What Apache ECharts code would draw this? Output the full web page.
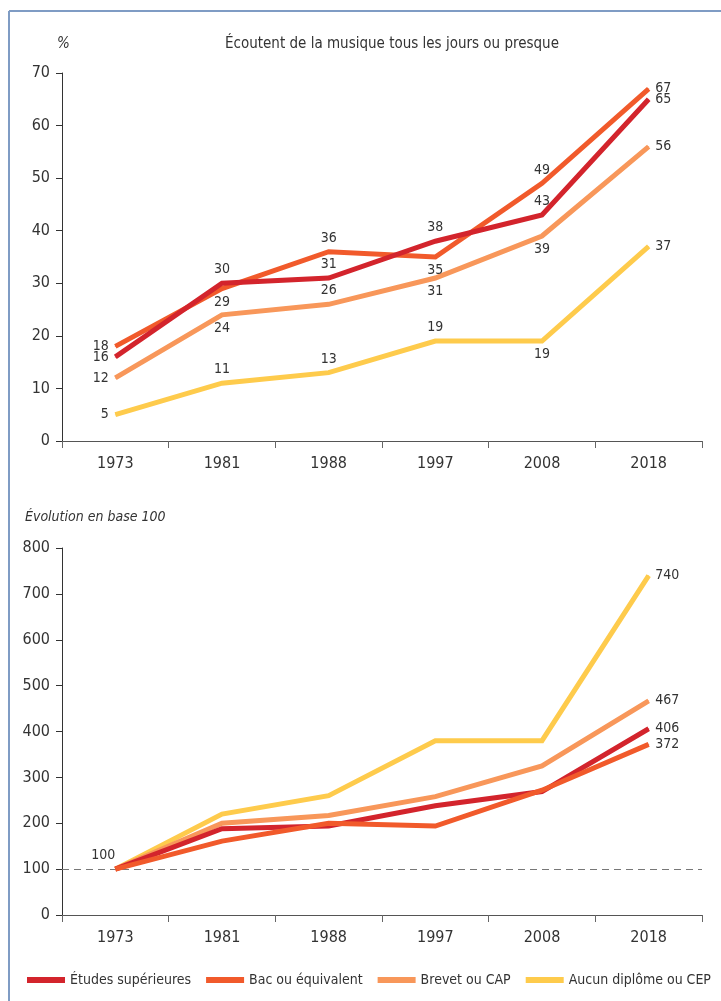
<!DOCTYPE html>
<html>
<head>
<meta charset="utf-8">
<script src="https://cdn.jsdelivr.net/npm/echarts@6/dist/echarts.min.js"></script>
<style>
html, body { margin: 0; padding: 0; background: #fff; }
#chart { width: 721px; height: 1001px; }
</style>
</head>
<body>
<div id="chart"></div>
<script>
// data
var years = ["1973", "1981", "1988", "1997", "2008", "2018"];
var names = ["Études supérieures", "Bac ou équivalent", "Brevet ou CAP", "Aucun diplôme ou CEP"];

// % qui écoutent de la musique tous les jours ou presque
var pctSup = [16, 30, 31, 38, 43, 65];
var pctBac = [18, 29, 36, 35, 49, 67];
var pctBrevet = [12, 24, 26, 31, 39, 56];
var pctAucun = [5, 11, 13, 19, 19, 37];

// évolution en base 100 (1973 = 100)
var idxSup = [100, 188, 194, 238, 269, 406];
var idxBac = [100, 161, 200, 194, 272, 372];
var idxBrevet = [100, 200, 217, 258, 325, 467];
var idxAucun = [100, 220, 260, 380, 380, 740];

var pctTicks = [0, 70, 10];
var idxTicks = [0, 800, 100];

var colors = ["#d3242c", "#f15a2b", "#f8975a", "#fecb4c"];
var FONT = '"Liberation Sans Narrow", "DejaVu Sans Condensed", sans-serif';

// where each value label sits, by point
var posTop = {
    sup: ["left", "top", "top", "top", "top", "right"],
    bac: ["left", "bottom", "top", "bottom", "top", "right"],
    brevet: ["left", "bottom", "top", "bottom", "bottom", "right"],
    aucun: ["left", "top", "top", "top", "bottom", "right"]
};

function topData(values, pos) {
    return values.map(function (v, i) {
        return { value: v, label: { show: true, position: pos[i] } };
    });
}

// bottom chart: only the last value, and "100" once on the first point
function idxData(values, first) {
    return values.map(function (v, i) {
        if (i === values.length - 1) return { value: v, label: { show: true, position: "right" } };
        if (i === 0 && first) return { value: v, label: { show: true, position: "top", offset: [-12, 0] } };
        return { value: v };
    });
}

function lineSeries(name, data, color, axis, z) {
    return {
        name: name,
        type: "line",
        xAxisIndex: axis,
        yAxisIndex: axis,
        data: data,
        // tiny symbol kept so labels can show, hidden under the line
        symbol: "circle",
        symbolSize: 1,
        z: z,
        lineStyle: { color: color, width: 5, join: "miter" },
        itemStyle: { color: color },
        label: { show: false, color: "#333", fontSize: 14, fontFamily: FONT, distance: 6 },
        emphasis: { disabled: true }
    };
}

function xAxis(idx) {
    return {
        type: "category",
        gridIndex: idx,
        data: years,
        boundaryGap: true,
        axisLine: { lineStyle: { color: "#555", width: 1 } },
        axisTick: { show: true, interval: 0, length: 7, lineStyle: { color: "#666" } },
        axisLabel: { color: "#333", fontSize: 16, fontFamily: FONT, margin: 15 }
    };
}

function yAxis(idx, ticks) {
    return {
        type: "value",
        gridIndex: idx,
        min: ticks[0],
        max: ticks[1],
        interval: ticks[2],
        axisLine: { show: true, lineStyle: { color: "#333", width: 1 } },
        axisTick: { show: true, length: 6, lineStyle: { color: "#333" } },
        splitLine: { show: false },
        axisLabel: { color: "#333", fontSize: 16, fontFamily: FONT, margin: 12 }
    };
}

var chart = echarts.init(document.getElementById("chart"));

var option = {
    animation: false,
    backgroundColor: "#fff",
    textStyle: { fontFamily: FONT },
    title: [
        { text: "%", left: 52, top: 32, textStyle: { fontSize: 15, fontStyle: "italic", fontWeight: "normal", color: "#333", fontFamily: FONT } },
        { text: "Écoutent de la musique tous les jours ou presque", left: 220, top: 32, textStyle: { fontSize: 15, fontWeight: "normal", color: "#333", fontFamily: FONT } },
        { text: "Évolution en base 100", left: 20, top: 505, textStyle: { fontSize: 14, fontStyle: "italic", fontWeight: "normal", color: "#333", fontFamily: FONT } }
    ],
    legend: {
        data: names,
        left: 22,
        top: 968,
        width: 700,
        icon: "rect",
        itemWidth: 38,
        itemHeight: 6,
        itemGap: 15,
        textStyle: { fontSize: 14, color: "#333", fontFamily: FONT }
    },
    grid: [
        { left: 62, right: 19, top: 73, height: 368 },
        { left: 62, right: 19, top: 548, height: 367 }
    ],
    xAxis: [xAxis(0), xAxis(1)],
    yAxis: [yAxis(0, pctTicks), yAxis(1, idxTicks)],
    graphic: [
        { type: "line", shape: { x1: 9, y1: 11, x2: 721, y2: 11 }, style: { stroke: "#7f9cc4", lineWidth: 2 } },
        { type: "line", shape: { x1: 9, y1: 11, x2: 9, y2: 1001 }, style: { stroke: "#7f9cc4", lineWidth: 2 } }
    ],
    series: [
        lineSeries(names[3], topData(pctAucun, posTop.aucun), colors[3], 0, 2),
        lineSeries(names[2], topData(pctBrevet, posTop.brevet), colors[2], 0, 3),
        lineSeries(names[1], topData(pctBac, posTop.bac), colors[1], 0, 4),
        lineSeries(names[0], topData(pctSup, posTop.sup), colors[0], 0, 5),

        lineSeries(names[3], idxData(idxAucun, false), colors[3], 1, 2),
        lineSeries(names[2], idxData(idxBrevet, false), colors[2], 1, 3),
        lineSeries(names[0], idxData(idxSup, false), colors[0], 1, 4),
        (function () {
            var s = lineSeries(names[1], idxData(idxBac, true), colors[1], 1, 5);
            s.markLine = {
                silent: true,
                symbol: "none",
                label: { show: false },
                lineStyle: { color: "#777", type: [7, 5], width: 1 },
                data: [{ yAxis: 100 }]
            };
            return s;
        })()
    ]
};

chart.setOption(option);
</script>
</body>
</html>
